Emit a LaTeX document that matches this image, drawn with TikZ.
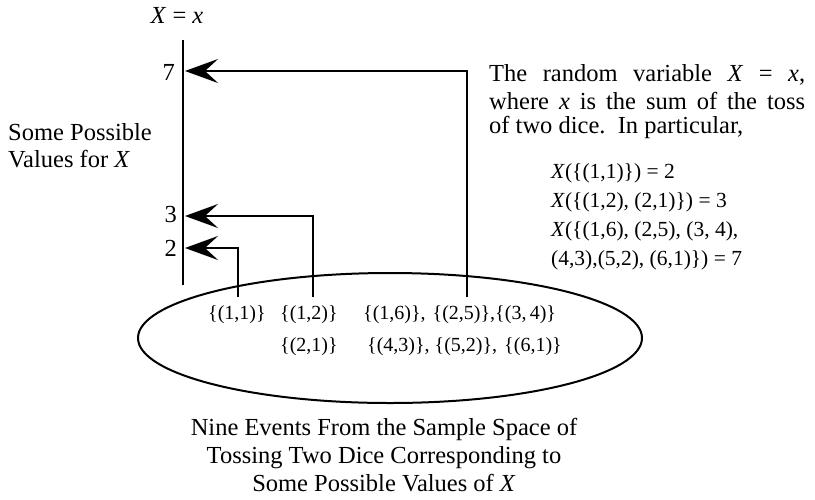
\documentclass[tikz,border=0pt]{standalone}
\usepackage{fontspec}
\setmainfont{Liberation Serif}
\usetikzlibrary{arrows.meta}
\tikzset{
  lbl/.style={inner sep=0pt, font=\fontsize{24.5}{27}\selectfont},
  small/.style={inner sep=0pt, font=\fontsize{21.5}{25}\selectfont},
  evt/.style={inner sep=0pt, font=\fontsize{20}{24}\selectfont},
  link/.style={line width=2pt, -{Stealth[length=33pt,width=24pt,inset=13pt]}},
  axisline/.style={line width=2.5pt},
}
\begin{document}
\begin{tikzpicture}[x=1pt,y=-1pt]
\useasboundingbox (0,0) rectangle (815,499);
% axis
\node[lbl] (xeq) at (177,15) {\textit{X} = \textit{x}};
\coordinate (axtop) at (183,40);
\coordinate (axbot) at (183,285);
\draw[axisline] (axtop) -- (axbot);
\node[lbl, anchor=east] (v7) at (175,72) {7};
\node[lbl, anchor=east] (v3) at (177,215) {3};
\node[lbl, anchor=east] (v2) at (177,248) {2};
\coordinate (a7) at (185,71);
\coordinate (a3) at (185,216);
\coordinate (a2) at (185,248);
% left label
\node[lbl, anchor=west, align=left] (some) at (8,146) {Some Possible\\Values for \textit{X}};
% ellipse
\draw[line width=2pt] (390,338) ellipse [x radius=252, y radius=65];
\node[evt, anchor=west] (e11) at (208,315) {\{(1,1)\}};
\node[evt, anchor=west] (e12) at (280,315) {\{(1,2)\}};
\node[evt, anchor=west] (e21) at (280,347) {\{(2,1)\}};
\node[evt, anchor=west] (e7a) at (363,315) {\{(1,6)\},\hspace{7pt}\{(2,5)\},\{(3,\,4)\}};
\node[evt, anchor=west] (e7b) at (367,347) {\{(4,3)\},\hspace{5pt}\{(5,2)\},\hspace{7pt}\{(6,1)\}};
\coordinate (b1) at (238,297);
\coordinate (b2) at (313,297);
\coordinate (b3) at (467,297);
\draw[link] (b1) |- (a2);
\draw[link] (b2) |- (a3);
\draw[link] (b3) |- (a7);
% right text
\node[lbl, anchor=west] (r1) at (489,75) {\makebox[316pt][s]{The random variable \textit{X} = \textit{x},}};
\node[lbl, anchor=west] (r2) at (489,101) {\makebox[316pt][s]{where \textit{x} is the sum of the toss}};
\node[lbl, anchor=west] (r3) at (489,127) {of two dice.\ \ In particular,};
\node[small, anchor=west] (q1) at (551,173) {\textit{X}(\{(1,1)\}) = 2};
\node[small, anchor=west] (q2) at (551,202) {\textit{X}(\{(1,2), (2,1)\}) = 3};
\node[small, anchor=west] (q3) at (551,231) {\textit{X}(\{(1,6), (2,5), (3, 4),};
\node[small, anchor=west] (q4) at (551,260) {(4,3),(5,2), (6,1)\}) = 7};
% bottom caption
\node[lbl, align=center, font=\fontsize{24.5}{28}\selectfont] (cap) at (384,455) {Nine Events From the Sample Space of\\Tossing Two Dice Corresponding to\\Some Possible Values of \textit{X}};
\end{tikzpicture}
\end{document}
